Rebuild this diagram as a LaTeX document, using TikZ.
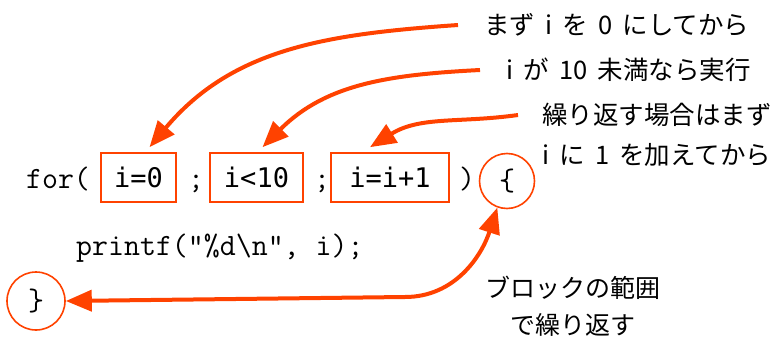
\documentclass[tikz,border=0pt]{standalone}
\usepackage{fontspec}
\usetikzlibrary{arrows.meta}
\newfontfamily\jp{Noto Sans CJK JP}
\newfontfamily\codesans{DejaVu Sans Mono}
\definecolor{callred}{RGB}{255,66,0}
\newcommand\jgap{\hspace{0.4em}}
\tikzset{
  code/.style={font=\ttfamily\fontsize{31}{31}\selectfont, inner sep=0pt, anchor=base},
  exprbox/.style={draw=callred, line width=1.6pt, minimum height=49pt, inner sep=0pt,
    font=\codesans\fontsize{27}{27}\selectfont},
  bracering/.style={draw=callred, line width=1.6pt, circle, inner sep=0pt, minimum size=55pt,
    font=\ttfamily\fontsize{31}{31}\selectfont},
  note/.style={font=\jp\fontsize{25.5}{40}\selectfont, inner sep=0pt, align=left},
  callout/.style={draw=callred, line width=4pt, -{Triangle[length=26pt,width=21pt]}},
}
\begin{document}
\begin{tikzpicture}[x=1pt,y=1pt]
  \useasboundingbox (0,0) rectangle (775,338);
  \node[note] (rei) at (22,350) {例};
  % the for line
  \node[code] (for) at (58,150) {for(};
  \node[exprbox, minimum width=75pt] (init) at (138.5,160.5) {i=0};
  \node[code] (semi1) at (196,150) {;};
  \node[exprbox, minimum width=93pt] (cond) at (256.5,160.5) {i<10};
  \node[code] (semi2) at (322,150) {;};
  \node[exprbox, minimum width=118pt] (incr) at (390,160.5) {i=i+1};
  \node[code] (paren) at (467,150) {)};
  \node[bracering] (open) at (507,157) {\{};
  \node[code, anchor=base west] (body) at (76,83) {printf("\%d\textbackslash n", i);};
  \node[bracering, minimum size=58pt] (close) at (36,37) {\}};
  % notes
  \node[note, anchor=west] (initnote) at (484,313) {まず\jgap i\jgap を\jgap 0\jgap にしてから};
  \node[note, anchor=west] (condnote) at (506,268) {i\jgap が\jgap 10\jgap 未満なら実行};
  \node[note, anchor=west] (incrnote) at (542,203) {繰り返す場合はまず\\i\jgap に\jgap 1\jgap を加えてから};
  \node[note, align=center, font=\jp\fontsize{25}{37}\selectfont] (blocknote) at (573,31.5)
    {ブロックの範囲\\で繰り返す};
  % arrows
  \draw[callout] ([xshift=-26pt]initnote.west) to[out=184,in=50] ([xshift=11pt,yshift=5pt]init.north);
  \draw[callout] ([xshift=-26pt]condnote.west) to[out=183,in=45] ([xshift=6pt,yshift=5pt]cond.north);
  \draw[callout] ([xshift=-24pt,yshift=20pt]incrnote.west) to[out=188,in=32] ([xshift=-20pt,yshift=5pt]incr.north);
  \coordinate (bend) at (405,41);
  \draw[callout, {Triangle[length=26pt,width=21pt]}-{Triangle[length=26pt,width=21pt]}]
    (close.east) -- (bend) to[out=0,in=-108] (open.-110);
\end{tikzpicture}
\end{document}
